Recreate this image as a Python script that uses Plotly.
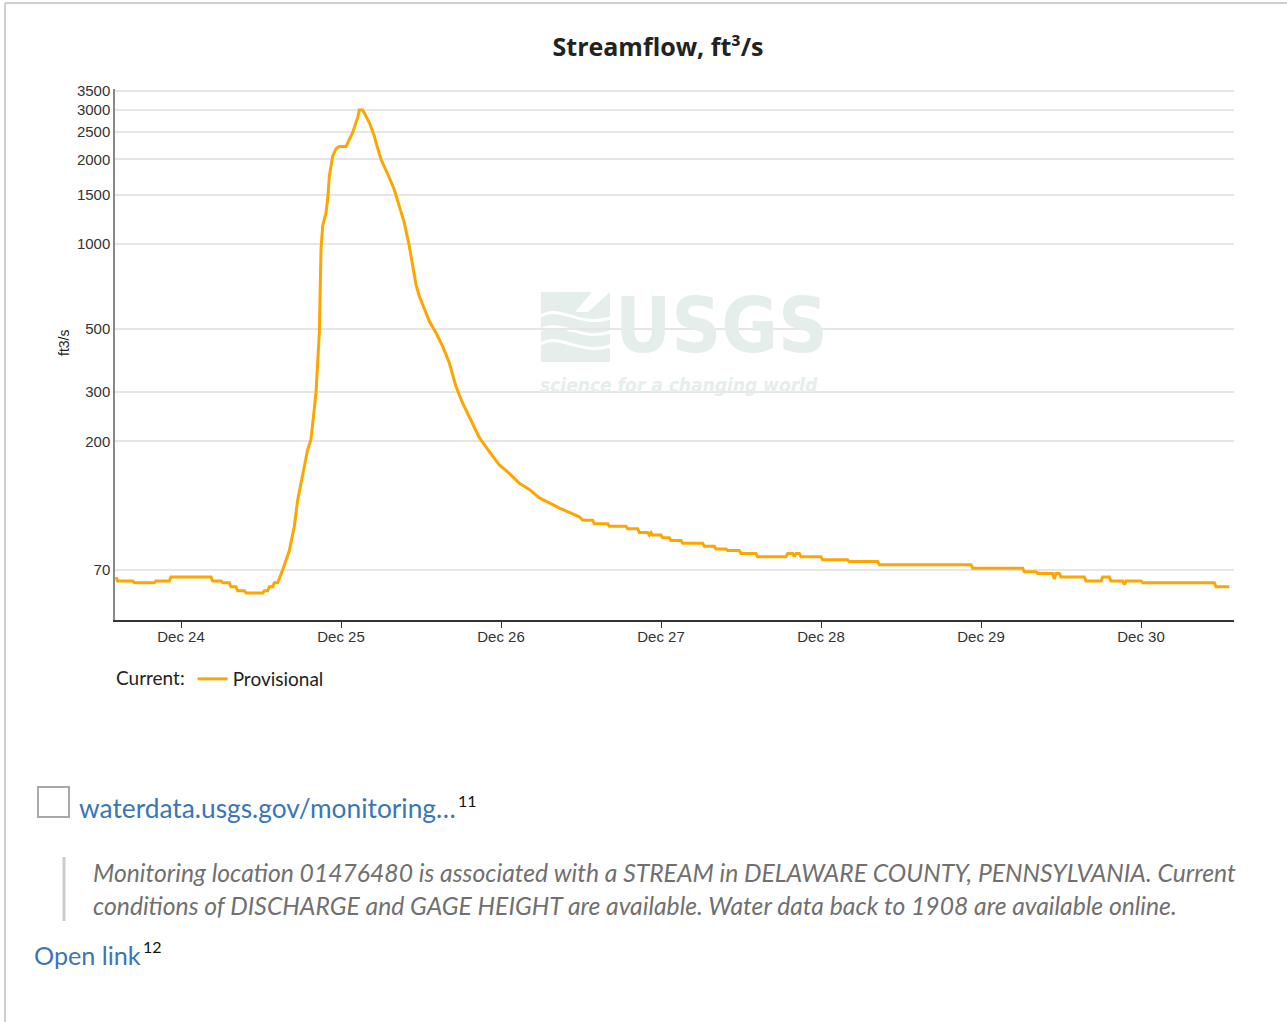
import plotly.graph_objects as go

# ---------------- data ----------------
YEAR = "2023"
time_labels = [
    "12-23 14:15", "12-23 14:30", "12-23 16:45", "12-23 17:00", "12-23 20:00",
    "12-23 20:15", "12-23 22:15", "12-23 22:30", "12-24 04:30", "12-24 04:45",
    "12-24 06:00", "12-24 06:15", "12-24 07:15", "12-24 07:30", "12-24 08:15",
    "12-24 08:30", "12-24 09:30", "12-24 09:45", "12-24 12:15", "12-24 12:30",
    "12-24 13:00", "12-24 13:15", "12-24 13:45", "12-24 14:00", "12-24 14:30",
    "12-24 14:45", "12-24 15:15", "12-24 16:15", "12-24 17:00", "12-24 17:30",
    "12-24 18:15", "12-24 19:00", "12-24 19:30", "12-24 20:15", "12-24 20:45",
    "12-24 21:00", "12-24 21:15", "12-24 21:45", "12-24 22:00", "12-24 22:15",
    "12-24 22:45", "12-24 23:15", "12-24 23:45", "12-25 00:45", "12-25 01:15",
    "12-25 01:45", "12-25 02:30", "12-25 02:45", "12-25 03:15", "12-25 03:45",
    "12-25 04:15", "12-25 05:00", "12-25 05:15", "12-25 06:00", "12-25 06:45",
    "12-25 07:15", "12-25 08:00", "12-25 08:45", "12-25 09:30", "12-25 10:15",
    "12-25 10:45", "12-25 11:15", "12-25 11:45", "12-25 12:30", "12-25 13:15",
    "12-25 14:15", "12-25 15:15", "12-25 16:15", "12-25 17:15", "12-25 18:15",
    "12-25 19:15", "12-25 20:00", "12-25 20:45", "12-25 22:15", "12-25 23:45",
    "12-26 01:15", "12-26 02:45", "12-26 04:15", "12-26 05:45", "12-26 07:15",
    "12-26 08:45", "12-26 10:15", "12-26 11:45", "12-26 12:15", "12-26 13:45",
    "12-26 14:00", "12-26 16:00", "12-26 16:15", "12-26 18:45", "12-26 19:00",
    "12-26 20:30", "12-26 20:45", "12-26 22:00", "12-26 22:15", "12-26 22:30",
    "12-26 22:45", "12-27 00:00", "12-27 00:15", "12-27 01:15", "12-27 01:30",
    "12-27 03:00", "12-27 03:15", "12-27 06:15", "12-27 06:30", "12-27 08:00",
    "12-27 08:15", "12-27 09:45", "12-27 10:00", "12-27 11:45", "12-27 12:00",
    "12-27 14:15", "12-27 14:30", "12-27 18:45", "12-27 19:00", "12-27 19:45",
    "12-27 20:00", "12-27 20:15", "12-27 20:45", "12-27 21:00", "12-28 00:00",
    "12-28 00:15", "12-28 04:00", "12-28 04:15", "12-28 08:30", "12-28 08:45",
    "12-28 22:30", "12-28 22:45", "12-29 06:15", "12-29 06:30", "12-29 08:15",
    "12-29 08:30", "12-29 10:45", "12-29 11:00", "12-29 11:15", "12-29 11:45",
    "12-29 12:00", "12-29 15:30", "12-29 15:45", "12-29 18:00", "12-29 18:15",
    "12-29 19:15", "12-29 19:30", "12-29 21:15", "12-29 21:30", "12-29 21:45",
    "12-30 00:00", "12-30 00:15", "12-30 11:00", "12-30 11:15", "12-30 13:15",
]
flow_cfs = [
    66, 64, 64, 63, 63,
    64, 64, 66, 66, 64,
    64, 63, 63, 61, 61,
    59, 59, 58, 58, 59,
    59, 61, 61, 63, 63,
    65, 70, 82, 100, 124,
    154, 187, 203, 297, 485,
    957, 1160, 1290, 1440, 1740,
    2050, 2180, 2220, 2220, 2350,
    2490, 2810, 2990, 2990, 2850,
    2700, 2420, 2290, 2000, 1840,
    1720, 1560, 1360, 1190, 983,
    835, 719, 654, 586, 533,
    485, 434, 379, 313, 273,
    245, 223, 206, 184, 165,
    154, 142, 135, 126, 121,
    116, 112, 108, 105, 105,
    102, 102, 100, 100, 98,
    98, 95, 95, 93, 95,
    93, 93, 91, 91, 89,
    89, 87, 87, 85, 85,
    83, 83, 82, 82, 80,
    80, 78, 78, 80, 80,
    78, 80, 80, 78, 78,
    76, 76, 75, 75, 73,
    73, 71, 71, 69, 69,
    68, 68, 65, 68, 68,
    66, 66, 64, 64, 66,
    66, 64, 64, 62, 64,
    64, 63, 63, 61, 61,
]
y_tick_values = [70, 200, 300, 500, 1000, 1500, 2000, 2500, 3000, 3500]
x_tick_dates = ["12-24", "12-25", "12-26", "12-27", "12-28", "12-29", "12-30"]
x_tick_labels = ["Dec 24", "Dec 25", "Dec 26", "Dec 27", "Dec 28", "Dec 29", "Dec 30"]

times = [f"{YEAR}-{t}" for t in time_labels]
tickvals_x = [f"{YEAR}-{d} 00:00" for d in x_tick_dates]

# ---------------- layout geometry (pixels) ----------------
W, H = 1287, 1022
L, R, T, B = 115, 1234, 89, 620
PW, PH = R - L, B - T


def PX(x):
    return (x - L) / PW


def PY(y):
    return (B - y) / PH


ORANGE = "#ffa500"
WM = "#e6eeeb"
LINK = "#3a75b8"
PAGE_FONT = "Lato, Open Sans, sans-serif"
AXIS_FONT = "Liberation Sans, Arial, sans-serif"
NARROW = "Liberation Sans Narrow, DejaVu Sans Condensed, Roboto, sans-serif"

fig = go.Figure()
fig.add_trace(go.Scatter(
    x=times, y=flow_cfs, mode="lines", name="Provisional",
    line=dict(color=ORANGE, width=3), showlegend=True,
))

shapes = []
# page card border
shapes.append(dict(type="line", xref="paper", yref="paper", x0=PX(5), x1=PX(1287),
                   y0=PY(3), y1=PY(3), line=dict(color="#cfcfcf", width=2)))
shapes.append(dict(type="line", xref="paper", yref="paper", x0=PX(5), x1=PX(5),
                   y0=PY(3), y1=PY(1022), line=dict(color="#cfcfcf", width=2)))
# watermark logo block
shapes.append(dict(type="rect", xref="paper", yref="paper", layer="below",
                   x0=PX(541), x1=PX(610), y0=PY(292), y1=PY(362),
                   fillcolor=WM, line=dict(width=0)))


def wave(y0, dy):
    pts = [(541, y0), (560, y0 - dy), (580, y0 + dy), (610, y0 + 2)]
    p = [(PX(a), PY(b)) for a, b in pts]
    return (f"M {p[0][0]},{p[0][1]} C {p[1][0]},{p[1][1]} "
            f"{p[2][0]},{p[2][1]} {p[3][0]},{p[3][1]}")


for yy in (316, 330, 344):
    shapes.append(dict(type="path", xref="paper", yref="paper", layer="below",
                       path=wave(yy, 12), line=dict(color="white", width=3)))
shapes.append(dict(type="path", xref="paper", yref="paper", layer="below",
                   path=f"M {PX(592)},{PY(292)} L {PX(610)},{PY(292)} L {PX(588)},{PY(312)} L {PX(575)},{PY(312)} Z",
                   fillcolor="white", line=dict(width=0)))
# checkbox
shapes.append(dict(type="rect", xref="paper", yref="paper",
                   x0=PX(38), x1=PX(69), y0=PY(787), y1=PY(817),
                   line=dict(color="#a8a8a8", width=2), fillcolor="white"))
# blockquote bar
shapes.append(dict(type="line", xref="paper", yref="paper",
                   x0=PX(64), x1=PX(64), y0=PY(857), y1=PY(921),
                   line=dict(color="#cccccc", width=3)))

ann = []
ann.append(dict(text="USGS", xref="paper", yref="paper", x=PX(721), y=PY(325),
                xanchor="center", yanchor="middle", showarrow=False,
                font=dict(family=NARROW, size=77, color=WM, weight="bold")))
ann.append(dict(text="<i>science for a changing world</i>", xref="paper", yref="paper",
                x=PX(679), y=PY(385), xanchor="center", yanchor="middle", showarrow=False,
                font=dict(family=NARROW, size=19, color=WM, weight="bold")))
ann.append(dict(text="ft3/s", xref="paper", yref="paper", x=PX(64), y=PY(343),
                xanchor="center", yanchor="middle", textangle=-90, showarrow=False,
                font=dict(family=AXIS_FONT, size=14, color="#222")))
ann.append(dict(text="waterdata.usgs.gov/monitoring…", xref="paper", yref="paper",
                x=PX(77), y=PY(808), xanchor="left", yanchor="middle", showarrow=False,
                font=dict(family=PAGE_FONT, size=26.3, color=LINK)))
ann.append(dict(text="11", xref="paper", yref="paper", x=PX(456), y=PY(800),
                xanchor="left", yanchor="middle", showarrow=False,
                font=dict(family=PAGE_FONT, size=16, color="#111")))
ann.append(dict(text="<i>Monitoring location 01476480 is associated with a STREAM in DELAWARE COUNTY, PENNSYLVANIA. Current</i>",
                xref="paper", yref="paper", x=PX(91), y=PY(873), xanchor="left", yanchor="middle",
                showarrow=False, font=dict(family=PAGE_FONT, size=24.7, color="#707070")))
ann.append(dict(text="<i>conditions of DISCHARGE and GAGE HEIGHT are available. Water data back to 1908 are available online.</i>",
                xref="paper", yref="paper", x=PX(91), y=PY(905), xanchor="left", yanchor="middle",
                showarrow=False, font=dict(family=PAGE_FONT, size=24.7, color="#707070")))
ann.append(dict(text="Open link", xref="paper", yref="paper", x=PX(32), y=PY(955),
                xanchor="left", yanchor="middle", showarrow=False,
                font=dict(family=PAGE_FONT, size=25.2, color=LINK)))
ann.append(dict(text="12", xref="paper", yref="paper", x=PX(141), y=PY(946),
                xanchor="left", yanchor="middle", showarrow=False,
                font=dict(family=PAGE_FONT, size=16, color="#111")))

fig.update_layout(
    width=W, height=H, autosize=False,
    margin=dict(l=L, r=W - R, t=T, b=H - B, pad=0),
    paper_bgcolor="white", plot_bgcolor="rgba(0,0,0,0)",
    title=dict(text="<b>Streamflow, ft³/s</b>", x=658 / W, xref="container",
               y=1 - 47 / H, yref="container", xanchor="center", yanchor="middle",
               font=dict(family="Open Sans, sans-serif", size=25, color="#222")),
    xaxis=dict(
        type="date", range=[f"{YEAR}-12-23 14:06", f"{YEAR}-12-30 13:57"],
        tickvals=tickvals_x, ticktext=x_tick_labels,
        showgrid=False, zeroline=False,
        showline=True, linecolor="#333", linewidth=1.5,
        ticks="outside", ticklen=6, tickcolor="#333", tickwidth=1,
        ticklabelstandoff=-4,
        tickfont=dict(family=AXIS_FONT, size=15, color="#333"),
    ),
    yaxis=dict(
        type="log", range=[1.6675, 3.5502],
        tickvals=y_tick_values, ticktext=[str(v) for v in y_tick_values],
        showgrid=True, gridcolor="#e6e6e6", gridwidth=1.5,
        showline=True, linecolor="#888", linewidth=1.5, zeroline=False,
        ticks="", ticklen=0, ticklabelstandoff=0,
        tickfont=dict(family=AXIS_FONT, size=15, color="#333"),
    ),
    legend=dict(
        orientation="h", xref="container", yref="container",
        x=114 / W, y=1 - 660 / H, xanchor="left", yanchor="top",
        title=dict(text="Current:", font=dict(family=PAGE_FONT, size=19, color="#222")),
        font=dict(family=PAGE_FONT, size=19, color="#222"),
        itemwidth=30, bgcolor="rgba(0,0,0,0)",
    ),
    shapes=shapes, annotations=ann,
    hovermode=False,
)

fig.write_html("out.html", config={"displayModeBar": False},
               post_script="document.body.style.margin='0px';")
